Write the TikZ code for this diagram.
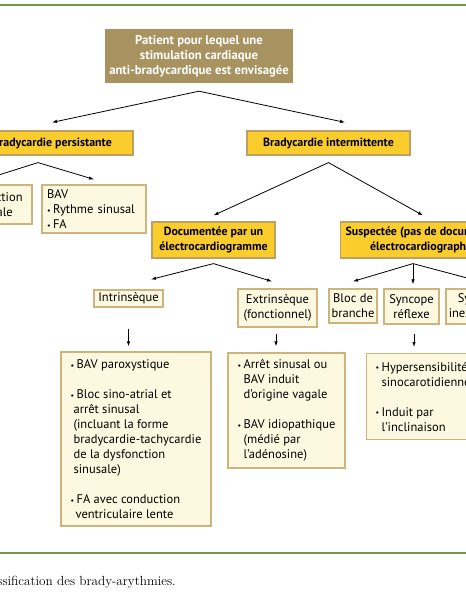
\documentclass[tikz,border=0pt]{standalone}
\usepackage{fontspec}
\setsansfont{PT Sans}
\usepackage{tikz}
\usetikzlibrary{arrows.meta}
\definecolor{vertligne}{RGB}{112,153,64}
\definecolor{brunclair}{RGB}{168,147,96}
\definecolor{jaune}{RGB}{250,204,44}
\definecolor{bordjaune}{RGB}{190,160,100}
\definecolor{creme}{RGB}{253,249,224}
\definecolor{bordure}{RGB}{205,180,125}
\newcommand{\puce}{\makebox[6pt][l]{\raisebox{0.2pt}{\footnotesize\textbullet}}}
\newcommand{\suite}{\hspace*{6pt}}
\def\largeur{466}
\def\hauteur{600}

\begin{document}
\begin{tikzpicture}[x=1pt, y=-1pt, font=\sffamily\fontsize{12.5}{15}\selectfont,
	>={Latex[length=5pt,width=3.5pt]},
	titre/.style={fill=brunclair, text=white, font=\sffamily\bfseries\fontsize{12.7}{15}\selectfont, align=center, inner sep=0pt},
	jaunebox/.style={draw=bordjaune, fill=jaune, line width=1.2pt, font=\sffamily\bfseries\fontsize{11.9}{15}\selectfont, align=center, inner sep=0pt},
	cremebox/.style={draw=bordure, fill=creme, line width=1.2pt, align=center, inner sep=0pt},
	liste/.style={cremebox, align=left},
	fleche/.style={->, line width=0.8pt}]
	\useasboundingbox (0,0) rectangle (\largeur,\hauteur);
	\clip (0,0) rectangle (\largeur,\hauteur);
	\fill[white] (0,0) rectangle (\largeur,\hauteur);
	%\draw[step=50, black!20] (0,0) grid (\largeur,\hauteur);
	\draw[vertligne, line width=1.3pt] (0,5) -- (\largeur,5);
	\draw[vertligne, line width=1.3pt] (0,553) -- (\largeur,553);

	% niveau 1
	\node[titre, minimum width=188, minimum height=54] (patient) at (199,56)
		{Patient pour lequel une\\ stimulation cardiaque\\ anti-bradycardique est envisagée};
	\node[jaunebox, minimum width=162, minimum height=24] (persist) at (52,143) {Bradycardie persistante};
	\node[jaunebox, minimum width=163, minimum height=24] (intermit) at (328.5,143) {Bradycardie intermittente};

	% niveau 2
	\node[cremebox, minimum width=82, minimum height=39] (dysf) at (-9,204.5) {Dysfonction\\ sinusale};
	\node[liste, minimum width=104, minimum height=48, text width=94] (bav) at (94,209)
		{BAV\\ \puce Rythme sinusal\\ \puce FA};
	\node[jaunebox, minimum width=123, minimum height=36] (docu) at (213.5,240) {Documentée par un\\ électrocardiogramme};
	\node[jaunebox, minimum height=36, inner xsep=5pt, anchor=west] (susp) at (340,240)
		{Suspectée (pas de documentation\\ électrocardiographique)};

	% niveau 3
	\node[cremebox, minimum width=69, minimum height=17] (intr) at (128.5,298.5) {Intrinsèque};
	\node[cremebox, minimum width=79, minimum height=38] (extr) at (277.5,308) {Extrinsèque\\ (fonctionnel)};
	\node[cremebox, minimum width=48, minimum height=34] (bloc) at (353,306) {Bloc de\\ branche};
	\node[cremebox, minimum width=55, minimum height=35] (sref) at (411.5,306.5) {Syncope\\ réflexe};
	\node[cremebox, minimum width=68, minimum height=35] (sinex) at (480,306.5) {Syncope\\ inexpliquée};

	% listes
	\node[liste, minimum width=150, minimum height=174] (liste1) at (136,439)
		{\puce BAV paroxystique\\[15pt]
		 \puce Bloc sino-atrial et\\ \hspace*{3pt}arrêt sinusal\\ \hspace*{3pt}(incluant la forme\\
		 \hspace*{3pt}bradycardie-tachycardie\\ \hspace*{3pt}de la dysfonction\\ \hspace*{3pt}sinusale)\\[15pt]
		 \puce FA avec conduction\\ \hspace*{5pt}ventriculaire lente};
	\node[liste, minimum width=117, minimum height=115] (liste2) at (286.5,410.5)
		{\puce Arrêt sinusal ou\\ \suite BAV induit\\ \suite d’origine vagale\\[15pt]
		 \puce BAV idiopathique\\ \suite (médié par\\ \suite l’adénosine)};
	\node[liste, minimum height=86, inner xsep=9pt, anchor=north west] (liste3) at (366,353)
		{\puce Hypersensibilité\\ \suite sinocarotidienne\\[15pt]
		 \puce Induit par\\ \suite l’inclinaison};

	\node[font=\rmfamily\fontsize{13.2}{15}\selectfont, anchor=east, inner sep=0pt] (legende) at (176,582)
		{Classification des brady-arythmies.};

	% fleches
	\draw[<->, line width=0.8pt] ([yshift=8pt]persist.north) -- ([yshift=-8pt]patient.south) -- ([xshift=16.5pt,yshift=8pt]intermit.north);
	\draw[<->, line width=0.8pt] ([yshift=7pt]dysf.north) -- ([xshift=-14pt,yshift=-7pt]persist.south) -- ([yshift=5pt]bav.north);
	\draw[<->, line width=0.8pt] ([yshift=6pt]docu.north) -- ([yshift=-7pt]intermit.south) -- ([xshift=83pt,yshift=6pt]susp.north west);
	\draw[<->, line width=0.8pt] ([xshift=22.5pt,yshift=10pt]intr.north) -- ([yshift=-5pt]docu.south) -- ([xshift=-5.5pt,yshift=7pt]extr.north);
	\draw[<->, line width=0.8pt] ([yshift=7pt]bloc.north) -- ([xshift=73pt,yshift=-5pt]susp.south west) -- ([yshift=7pt]sinex.north);
	\draw[fleche] ([xshift=73pt,yshift=-5pt]susp.south west) -- ([xshift=1.5pt,yshift=4pt]sref.north);
	\draw[fleche, shorten <=21pt, shorten >=5pt] (intr.south) -- (intr.south |- liste1.north);
	\draw[fleche, shorten <=6pt, shorten >=6pt] ([xshift=-1.5pt]extr.south) -- ([xshift=-1.5pt]extr.south |- liste2.north);
	\draw[fleche, shorten <=9pt, shorten >=6pt] ([xshift=2.5pt]sref.south) -- ([xshift=2.5pt]sref.south |- liste3.north);
\end{tikzpicture}
\end{document}
